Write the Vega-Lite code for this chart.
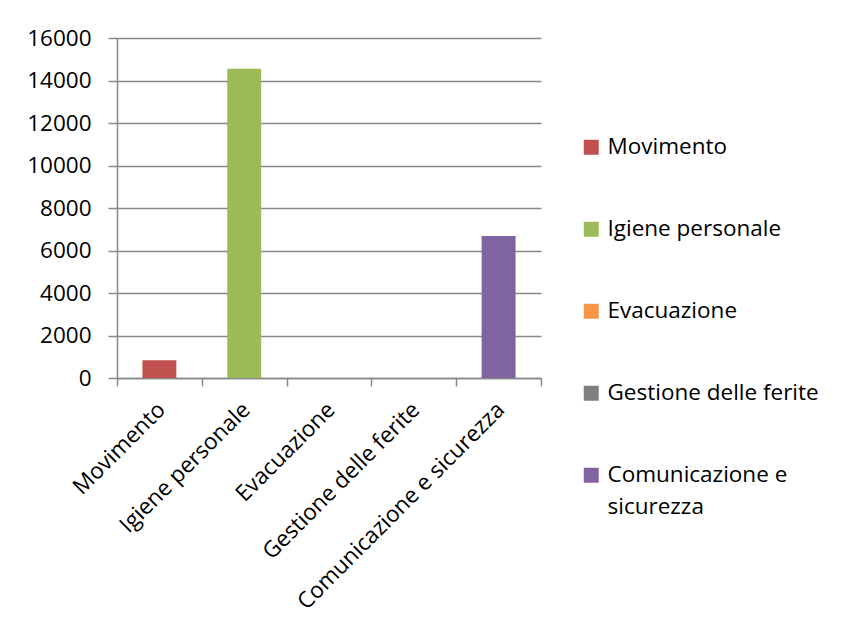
{
  "$schema": "https://vega.github.io/schema/vega-lite/v6.json",
  "width": 424,
  "height": 340,
  "autosize": {"type": "none"},
  "padding": {"left": 117, "top": 38, "right": 300, "bottom": 256},
  "background": "white",
  "data": {
    "values": [
      {"categoria": "Movimento", "valore": 830},
      {"categoria": "Igiene personale", "valore": 14550},
      {"categoria": "Evacuazione", "valore": 0},
      {"categoria": "Gestione delle ferite", "valore": 0},
      {"categoria": "Comunicazione e sicurezza", "valore": 6680}
    ]
  },
  "mark": {"type": "bar", "width": {"band": 0.4}},
  "encoding": {
    "x": {
      "field": "categoria",
      "type": "nominal",
      "sort": null,
      "scale": {"paddingInner": 0, "paddingOuter": 0},
      "axis": {
        "title": null,
        "labelAngle": -45,
        "labelAlign": "right",
        "labelBaseline": "top",
        "labelLimit": 400,
        "labelOffset": -6,
        "tickBand": "extent",
        "tickSize": 8,
        "labelPadding": 12,
        "grid": false
      }
    },
    "y": {
      "field": "valore",
      "type": "quantitative",
      "scale": {"domain": [0, 16000], "nice": false},
      "axis": {
        "title": null,
        "values": [0, 2000, 4000, 6000, 8000, 10000, 12000, 14000, 16000],
        "format": "d",
        "tickSize": 9,
        "labelPadding": 17,
        "grid": true
      }
    },
    "color": {
      "field": "categoria",
      "type": "nominal",
      "sort": null,
      "scale": {
        "domain": ["Movimento", "Igiene personale", "Evacuazione", "Gestione delle ferite", "Comunicazione e sicurezza"],
        "range": ["#C0504D", "#9BBB59", "#F79646", "#7F7F7F", "#8064A2"]
      },
      "legend": {
        "title": null,
        "orient": "none",
        "legendX": 463,
        "legendY": 98,
        "padding": 0,
        "symbolType": "square",
        "symbolSize": 225,
        "symbolStrokeWidth": 0,
        "labelOffset": 5,
        "rowPadding": 59,
        "labelLimit": 400,
        "labelExpr": "datum.label == 'Comunicazione e sicurezza' ? ['Comunicazione e', 'sicurezza'] : datum.label"
      }
    }
  },
  "config": {
    "font": "Open Sans",
    "view": {"stroke": null},
    "style": {"guide-label": {"lineHeight": 32}},
    "axis": {
      "labelFont": "Open Sans",
      "labelFontSize": 22.5,
      "labelColor": "#000000",
      "domainColor": "#888888",
      "domainWidth": 1.5,
      "tickColor": "#888888",
      "tickWidth": 1.5,
      "gridColor": "#888888",
      "gridWidth": 1.5,
      "gridOpacity": 1
    },
    "legend": {
      "labelFont": "Open Sans",
      "labelFontSize": 22.5,
      "labelColor": "#000000"
    }
  }
}
